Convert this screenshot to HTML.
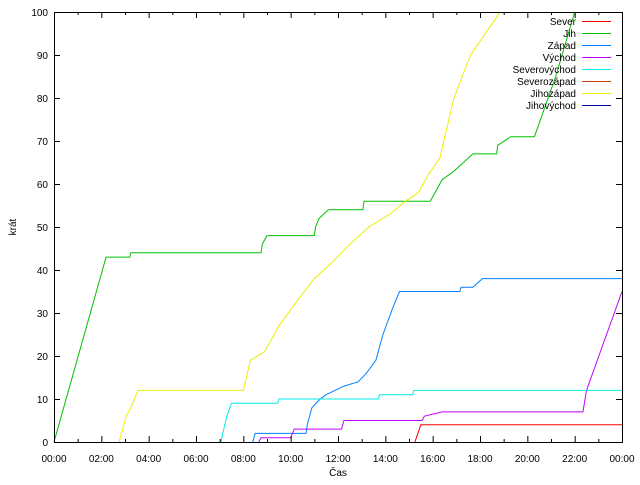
<!DOCTYPE html>
<html><head><meta charset="utf-8"><style>
body{margin:0;background:#fff}
svg{font-family:"Liberation Sans","DejaVu Sans",sans-serif;font-size:10px}
</style></head><body>
<svg id="chart" width="640" height="480"></svg>
<script>
const seriesNames=["Sever","Jih","Západ","Východ","Severovýchod","Severozápad","Jihozápad","Jihovýchod"];
const seriesColors=["#ff0000","#00c000","#0080ff","#c000ff","#00eeee","#c04000","#eeee00","#0000a0"];
const xTickHours=[0,2,4,6,8,10,12,14,16,18,20,22,24];
const xTickLabels=["00:00","02:00","04:00","06:00","08:00","10:00","12:00","14:00","16:00","18:00","20:00","22:00","00:00"];
const yTicks=[0,10,20,30,40,50,60,70,80,90,100];
const sever=[[15.25,0],[15.5,4],[24,4]];
const jih=[[0,0],[2.2,43],[3.2,43],[3.25,44],[8.75,44],[8.8,46],[9,48],[11,48],[11.05,50],[11.2,52],[11.6,54],[13.05,54],[13.1,56],[15.9,56],[16.1,58],[16.4,61],[16.9,63],[17.3,65],[17.7,67],[18.7,67],[18.75,69],[19.3,71],[20.3,71],[21.2,85],[22,100]];
const zapad=[[8.4,0],[8.5,2],[10.65,2],[10.7,4],[10.9,8],[11.25,10],[11.5,11],[12.25,13],[12.85,14],[13.2,16],[13.6,19],[13.9,25],[14.3,31],[14.6,35],[17.15,35],[17.2,36],[17.7,36],[18.1,38],[24,38]];
const vychod=[[8.65,0],[8.75,1],[10,1],[10.15,3],[12.15,3],[12.25,5],[15.55,5],[15.65,6],[16.4,7],[22.35,7],[22.5,12],[24,35]];
const severovychod=[[7.05,0],[7.3,6],[7.5,9],[9.45,9],[9.5,10],[13.7,10],[13.75,11],[15.15,11],[15.2,12],[24,12]];
const severozapad=[];
const jihozapad=[[2.75,0],[3.05,6],[3.25,8],[3.55,12],[8,12],[8.3,19],[8.9,21],[9.5,27],[10.3,33],[11,38],[11.8,42],[12.5,46],[13.3,50],[14.2,53],[14.85,56],[15.4,58],[15.8,62],[16.3,66],[16.9,80],[17.6,90],[18.85,100]];
const jihovychod=[];
const allSeries=[sever,jih,zapad,vychod,severovychod,severozapad,jihozapad,jihovychod];

const L=54,R=622,T=12,B=442;
const X=h=>L+h*(R-L)/24, Y=v=>B-v*(B-T)/100;
const NS="http://www.w3.org/2000/svg";
const svg=document.getElementById('chart');
function mk(tag,attrs){const e=document.createElementNS(NS,tag);for(const k in attrs)e.setAttribute(k,attrs[k]);svg.appendChild(e);return e;}

// series
allSeries.forEach((s,i)=>{
  if(!s.length)return;
  const p=mk('polyline',{points:s.map(d=>X(d[0])+','+Y(Math.min(d[1],100))).join(' '),fill:'none',stroke:seriesColors[i],'stroke-width':1});
  
  
});
// axes frame
const fr=mk('rect',{x:L+0.5,y:T+0.5,width:R-L,height:B-T,fill:'none',stroke:'#000'});


// x ticks
for(let h=0;h<=24;h++){
  const len=h%2===0?6:3;
  mk('line',{x1:X(h)+0.5,x2:X(h)+0.5,y1:B,y2:B-len,stroke:'#000'});
  mk('line',{x1:X(h)+0.5,x2:X(h)+0.5,y1:T,y2:T+len,stroke:'#000'});
}
xTickHours.forEach((h,i)=>{
  const t=mk('text',{x:X(h),y:B+20,'text-anchor':'middle'});t.textContent=xTickLabels[i];
  
  
});
yTicks.forEach(v=>{
  mk('line',{x1:L,x2:L+6,y1:Y(v)+0.5,y2:Y(v)+0.5,stroke:'#000'});
  mk('line',{x1:R-6,x2:R,y1:Y(v)+0.5,y2:Y(v)+0.5,stroke:'#000'});
  const t=mk('text',{x:L-6,y:Y(v)+4,'text-anchor':'end'});t.textContent=v;
  
  
});
const xt=mk('text',{x:(L+R)/2,y:476,'text-anchor':'middle'});xt.textContent='Čas';


const yt=mk('text',{x:16,y:(T+B)/2,'text-anchor':'middle',transform:`rotate(-90 16 ${(T+B)/2})`});yt.textContent='krát';


// legend
seriesNames.forEach((n,i)=>{
  const y=21+i*12;
  const t=mk('text',{x:576,y:y+4,'text-anchor':'end'});t.textContent=n;
  
  
  const l=mk('line',{x1:582,x2:611,y1:y+0.5,y2:y+0.5,stroke:seriesColors[i]});
  
  
});
</script>
</body></html>
